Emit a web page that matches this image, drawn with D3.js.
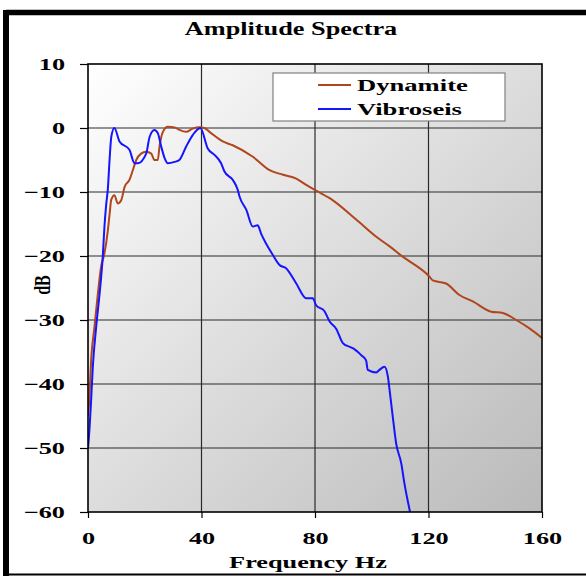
<!DOCTYPE html>
<html><head><meta charset="utf-8">
<script src="https://cdn.jsdelivr.net/npm/d3@7/dist/d3.min.js"></script>
<style>
body{margin:0;background:#fff;}
text{font-family:"Liberation Serif","Times New Roman",serif;font-weight:bold;fill:#000;}
</style></head>
<body><svg id="c" width="586" height="577"></svg>
<script>
const dynamiteF = [0,0.5,1.1,2.3,3.5,4.6,5.8,7.0,7.6,8.2,9.3,10.5,11.7,12.9,14.6,15.8,17.0,18.7,20.5,22.3,23.4,24.6,25.2,26.4,28.1,30.5,32.2,34.6,36.9,39.3,41,42.8,47.5,51,58.1,64,68.7,73.4,76.9,80.4,86.3,94.5,101.6,106.3,110.9,120.3,121.5,126.2,130.9,135.6,142.1,146.2,150.9,155.6,160];
const dynamiteDb = [-45,-42,-36.3,-31,-25.8,-21.7,-19.6,-16,-13.5,-11.2,-10.5,-11.8,-11.3,-9.2,-8.1,-6.6,-5,-4,-3.7,-4,-5,-5,-2.9,-0.6,0.2,0.1,-0.3,-0.6,-0.1,0.1,0,-0.6,-2.1,-2.7,-4.5,-6.6,-7.3,-7.9,-8.9,-9.8,-11.3,-14.3,-17,-18.5,-20.1,-23.2,-23.8,-24.3,-26.1,-27.1,-28.7,-28.9,-30,-31.3,-32.8];
const vibroF = [0,0.5,1.1,1.7,2.9,4.1,5.2,5.8,6.4,7.0,7.6,8.2,9.3,11.1,14.6,16.4,17.6,20.5,21.7,23.4,24.6,25.8,27,28.1,30.5,32.2,34.6,36.9,39.6,42.2,44.6,46.9,48.1,51,52.8,53.4,55.8,58.1,59.8,61,65.1,67.5,69.8,73.4,76.9,79.2,80.4,83.3,85.1,87.5,89.8,92.2,93.3,96.3,98,98.6,101.6,102.7,104.5,105.7,106.3,107.4,108.6,110.4,111.5,113.5];
const vibroDb = [-50,-47.2,-42.5,-37.3,-31,-25.8,-20.1,-15.4,-12,-9.5,-5,-1.4,0,-2.1,-3.4,-5.5,-5.5,-4,-1.4,-0.3,-0.8,-2.9,-4.7,-5.5,-5.3,-5,-2.9,-1.1,0,-3.2,-4.2,-5.5,-6.8,-8.1,-9.7,-10.7,-12.8,-15.4,-15.2,-16.5,-19.8,-21.4,-21.9,-24.3,-26.6,-26.6,-27.7,-28.6,-30.2,-31.4,-33.6,-34.2,-34.4,-35.5,-36.3,-37.8,-38.2,-37.8,-37.3,-38.9,-41,-45.1,-49.3,-52.4,-55.5,-60];
const xTicks = [0,40,80,120,160];
const yTicks = [10,0,-10,-20,-30,-40,-50,-60];
const seriesNames = ["Dynamite","Vibroseis"];
const seriesColors = ["#b0461c","#1414ff"];
const title = "Amplitude Spectra";
const xTitle = "Frequency Hz";
const yTitle = "dB";

const svg = d3.select("#c");
const L=88, R=542, T=64, B=512;
const x = d3.scaleLinear().domain([0,160]).range([L,R]);
const y = d3.scaleLinear().domain([-60,10]).range([B,T]);

function stretch(sel,k){
  sel.each(function(){
    const len=this.getComputedTextLength();
    d3.select(this).attr("textLength",len*k).attr("lengthAdjust","spacingAndGlyphs");
  });
}

// outer frame
svg.append("rect").attr("x",6).attr("y",12.5).attr("width",600).attr("height",562)
  .attr("fill","none").attr("stroke","#000").attr("stroke-width",2);
svg.append("line").attr("x1",6).attr("x2",600).attr("y1",12.5).attr("y2",12.5).attr("stroke","#000").attr("stroke-width",5.5);
svg.append("line").attr("x1",6).attr("x2",6).attr("y1",10).attr("y2",576).attr("stroke","#000").attr("stroke-width",6);

// gradient
const defs=svg.append("defs");
const g=defs.append("linearGradient").attr("id","bg").attr("x1","0").attr("y1","0").attr("x2","1").attr("y2","1");
g.append("stop").attr("offset","0").attr("stop-color","#ffffff");
g.append("stop").attr("offset","1").attr("stop-color","#bababa");
defs.append("clipPath").attr("id","clip").append("rect").attr("x",L).attr("y",T).attr("width",R-L).attr("height",B-T);

svg.append("rect").attr("x",L).attr("y",T).attr("width",R-L).attr("height",B-T).attr("fill","url(#bg)");

// grid
svg.append("g").selectAll("line").data(yTicks.filter(d=>d!==10&&d!==-60)).join("line")
  .attr("x1",L).attr("x2",R).attr("y1",d=>y(d)).attr("y2",d=>y(d)).attr("stroke","#2a2a2a").attr("stroke-width",1.2);
svg.append("g").selectAll("line").data(xTicks.filter(d=>d!==0&&d!==160)).join("line")
  .attr("y1",T).attr("y2",B).attr("x1",d=>x(d)).attr("x2",d=>x(d)).attr("stroke","#2a2a2a").attr("stroke-width",1.2);

// lines
const line=d3.line().x(d=>x(d[0])).y(d=>y(d[1])).curve(d3.curveMonotoneX);
const series=[d3.zip(dynamiteF,dynamiteDb), d3.zip(vibroF,vibroDb)];
svg.append("g").attr("clip-path","url(#clip)").selectAll("path").data(series).join("path")
  .attr("d",line).attr("fill","none").attr("stroke",(d,i)=>seriesColors[i]).attr("stroke-width",2);

// plot border
svg.append("rect").attr("x",L).attr("y",T).attr("width",R-L).attr("height",B-T).attr("fill","none").attr("stroke","#000").attr("stroke-width",1.6);

// axes
const ya=svg.append("g").attr("transform",`translate(${L},0)`).call(d3.axisLeft(y).tickValues(yTicks).tickSize(8).tickPadding(15).tickFormat(d3.format("d")));
ya.select(".domain").remove();
ya.selectAll("line").attr("stroke","#000").attr("stroke-width",1.2);
ya.selectAll("text").attr("font-size",17.5).attr("font-family",null).attr("dy","0.34em").call(stretch,1.5);
const xa=svg.append("g").attr("transform",`translate(0,${B})`).call(d3.axisBottom(x).tickValues(xTicks).tickSize(6).tickPadding(14).tickFormat(d3.format("d")));
xa.select(".domain").remove();
xa.selectAll("line").attr("stroke","#000").attr("stroke-width",1.2);
xa.selectAll("text").attr("font-size",17.5).attr("font-family",null).call(stretch,1.5);

// titles
svg.append("text").attr("x",291).attr("y",35).attr("text-anchor","middle").attr("font-size",18).text(title).call(stretch,1.46);
svg.append("text").attr("x",308).attr("y",568).attr("text-anchor","middle").attr("font-size",17.5).text(xTitle).call(stretch,1.5);
svg.append("text").attr("transform","translate(50,285) scale(1.45,1) rotate(-90)").attr("text-anchor","middle").attr("font-size",16).text(yTitle);

// legend
const lg=svg.append("g");
lg.append("rect").attr("x",273).attr("y",73).attr("width",232).attr("height",48).attr("fill","#fff").attr("stroke","#808080").attr("stroke-width",1.2);
seriesNames.forEach((n,i)=>{
  const yy=85+i*24;
  lg.append("line").attr("x1",318).attr("x2",351).attr("y1",yy).attr("y2",yy).attr("stroke",seriesColors[i]).attr("stroke-width",2);
  lg.append("text").attr("x",357).attr("y",yy+6).attr("font-size",17.5).text(n).call(stretch,1.52);
});
</script></body></html>
